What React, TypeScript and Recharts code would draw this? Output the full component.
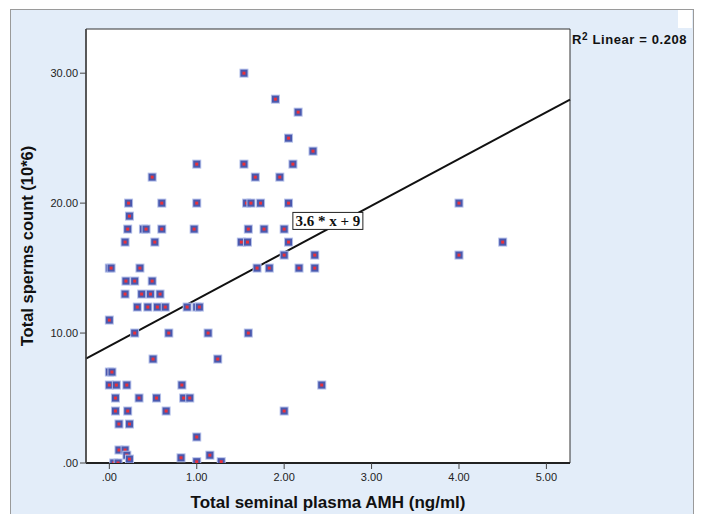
import {
  ScatterChart,
  Scatter,
  XAxis,
  YAxis,
  CartesianGrid,
  ReferenceLine,
  ReferenceArea,
  ReferenceDot,
} from "recharts";

// AMH (ng/ml) and sperm count (10*6)
const amhValues = [
  0.22, 0.6, 1.0, 1.57, 1.62, 1.73, 2.05, 4.0,
  0.23,
  0.21, 0.39, 0.42, 0.6, 0.97, 1.59, 1.77, 2.0,
  0.18, 0.52, 1.51, 1.58, 2.05, 4.5,
  2.0, 2.35, 4.0,
  0.0, 0.02, 0.35, 1.69, 1.83, 2.17, 2.35,
  0.19, 0.29, 0.49,
  0.18, 0.37, 0.47, 0.58,
  0.32, 0.44, 0.55, 0.64, 0.89, 1.0, 1.03,
  0.0,
  0.29, 0.68, 1.13, 1.59,
  0.5, 1.24,
  0.0, 0.03,
  0.0, 0.08, 0.2, 0.83, 2.43,
  0.07, 0.34, 0.54, 0.85, 0.92,
  0.07, 0.21, 0.65, 2.0,
  0.11, 0.23,
  1.0,
  0.11, 0.18,
  0.2, 0.23, 0.05, 0.1, 0.82, 1.0, 1.15, 1.28,
  1.0, 1.54, 2.1, 0.49, 1.67, 1.95, 2.33, 2.05, 2.16, 1.9, 1.54,
];

const spermCounts = [
  20, 20, 20, 20, 20, 20, 20, 20,
  19,
  18, 18, 18, 18, 18, 18, 18, 18,
  17, 17, 17, 17, 17, 17,
  16, 16, 16,
  15, 15, 15, 15, 15, 15, 15,
  14, 14, 14,
  13, 13, 13, 13,
  12, 12, 12, 12, 12, 12, 12,
  11,
  10, 10, 10, 10,
  8, 8,
  7, 7,
  6, 6, 6, 6, 6,
  5, 5, 5, 5, 5,
  4, 4, 4, 4,
  3, 3,
  2,
  1, 1,
  0.6, 0.3, 0, 0, 0.4, 0.1, 0.6, 0.1,
  23, 23, 23, 22, 22, 22, 24, 25, 27, 28, 30,
];

const xTicks = [0, 1, 2, 3, 4, 5];
const yTicks = [0, 10, 20, 30];

const fitSlope = 3.6;
const fitIntercept = 9;
const rSquared = "0.208";

const X_MIN = -0.267;
const X_MAX = 5.27;
const Y_MAX = 33.4;

const points = amhValues.map((x, i) => ({ x, y: spermCounts[i] }));

const fmt = (v: number) => (v === 0 ? ".00" : v.toFixed(2));

const FONT = "'Liberation Sans', Arial, sans-serif";

const Marker = (props: any) => {
  const { cx, cy } = props;
  if (cx == null || cy == null) return null;
  return (
    <g>
      <rect x={cx - 4.5} y={cy - 4.5} width={9} height={9} fill="#b3bfe9" />
      <rect x={cx - 3.5} y={cy - 3.5} width={7} height={7} fill="#4a58ad" />
      <rect x={cx - 1.5} y={cy - 1.5} width={3} height={3} fill="#e8313b" />
    </g>
  );
};

const EquationBox = (props: any) => {
  const { cx, cy } = props;
  return (
    <g>
      <rect x={cx - 35} y={cy - 8.5} width={70} height={17} fill="#fff" stroke="#222" />
      <text
        x={cx}
        y={cy + 5}
        textAnchor="middle"
        fontFamily="'Liberation Serif', serif"
        fontWeight="bold"
        fontSize={15}
        fill="#111"
      >
        {`${fitSlope} * x + ${fitIntercept}`}
      </text>
    </g>
  );
};

export default function App() {
  return (
    <div style={{ position: "absolute", left: 0, top: 0, width: 707, height: 514, background: "#fff", overflow: "hidden" }}>
      <div
        style={{
          position: "absolute",
          left: 10,
          top: 9,
          width: 682,
          height: 520,
          background: "#e3edf9",
          border: "1px solid #9a9a9a",
        }}
      />
      <div style={{ position: "absolute", left: 678, top: 10, width: 14, height: 18, background: "#fff" }} />
      <div
        style={{
          position: "absolute",
          left: 572,
          top: 32,
          fontFamily: FONT,
          fontWeight: "bold",
          fontSize: 13,
          letterSpacing: 0.6,
          color: "#111",
          whiteSpace: "nowrap",
        }}
      >
        R<sup style={{ fontSize: 10, verticalAlign: "top", lineHeight: "10px" }}>2</sup> Linear = {rSquared}
      </div>
      <div style={{ position: "absolute", left: 0, top: 0 }}>
        <ScatterChart width={707} height={514} margin={{ top: 29, right: 137, left: 10, bottom: 0 }}>
          <CartesianGrid horizontal={false} vertical={false} fill="#fff" />
          <XAxis
            type="number"
            dataKey="x"
            domain={[X_MIN, X_MAX]}
            ticks={xTicks}
            tickFormatter={fmt}
            height={51}
            tick={{ fontSize: 11, fill: "#222", fontFamily: FONT, dy: 2 }}
            axisLine={{ stroke: "#222", strokeWidth: 2 }}
            tickLine={{ stroke: "#444" }}
            allowDataOverflow
            label={{
              value: "Total seminal plasma AMH (ng/ml)",
              position: "insideBottom",
              offset: 6,
              fontSize: 17,
              fontWeight: "bold",
              fill: "#111",
              fontFamily: FONT,
            }}
          />
          <YAxis
            type="number"
            dataKey="y"
            domain={[0, Y_MAX]}
            ticks={yTicks}
            tickFormatter={fmt}
            width={76}
            tick={{ fontSize: 11, fill: "#222", fontFamily: FONT }}
            axisLine={{ stroke: "#444", strokeWidth: 1.5 }}
            tickLine={{ stroke: "#444" }}
            allowDataOverflow
            label={{
              value: "Total sperms count (10*6)",
              angle: -90,
              position: "insideLeft",
              offset: 17,
              style: { textAnchor: "middle" },
              fontSize: 16.5,
              fontWeight: "bold",
              fill: "#111",
              fontFamily: FONT,
            }}
          />
          <ReferenceArea x1={X_MIN} x2={X_MAX} y1={0} y2={Y_MAX} fill="none" fillOpacity={0} stroke="#333" />
          <ReferenceLine
            segment={[
              { x: X_MIN, y: fitIntercept + fitSlope * X_MIN },
              { x: X_MAX, y: fitIntercept + fitSlope * X_MAX },
            ]}
            stroke="#111"
            strokeWidth={2}
          />
          <Scatter data={points} shape={Marker} isAnimationActive={false} />
          <ReferenceDot x={2.5} y={18.63} shape={EquationBox} />
        </ScatterChart>
      </div>
    </div>
  );
}
